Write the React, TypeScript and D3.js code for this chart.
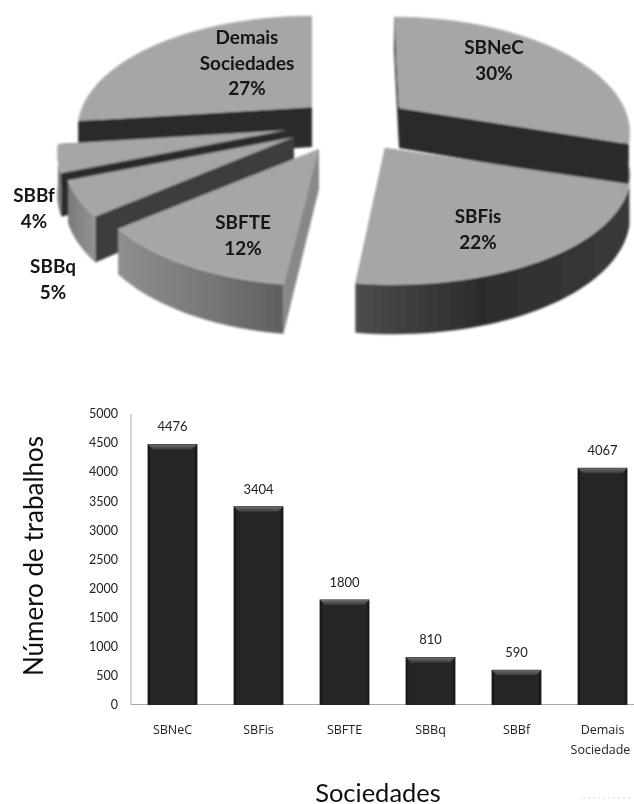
import React from "react";
import * as d3 from "d3";

const pieNames = ["SBNeC", "SBFis", "SBFTE", "SBBq", "SBBf", "Demais Sociedades"];
const pieShares = [30, 22, 12, 5, 4, 27];
const categories = ["SBNeC", "SBFis", "SBFTE", "SBBq", "SBBf", "Demais Sociedade"];
const works = [4476, 3404, 1800, 810, 590, 4067];
const yTicks = [0, 500, 1000, 1500, 2000, 2500, 3000, 3500, 4000, 4500, 5000];

const W = 634, H = 804;
const R = 225, K = 109, P = 0.2, DEPTH = 40;
const font = "Lato, 'Open Sans', sans-serif";
const tickFont = "'Open Sans', Lato, sans-serif";

// exploded apex of each slice, painter's order and look
const apexX = [399, 385, 319, 294, 287, 312];
const apexY = [108, 148, 149, 137, 130, 107];
const skew = [5, 8, 0, 0, 0, 0];
const widen = [1, 1.06, 1.01, 1, 1, 1.02];
const drawOrder = [5, 4, 3, 2, 0, 1];
const outerWall = ["#2b2b2b", "url(#gFis)", "url(#gFte)", "url(#gQ)", "#777", "#2b2b2b"];
const endWall = ["#2a2a2a", "#2a2a2a", "#888888", "#3d3d3d", "#2a2a2a", "#2a2a2a"];
const startWall = ["#2a2a2a", "#2a2a2a", "#888888", "#3d3d3d", "#2a2a2a", "#2a2a2a"];

const arcs = d3.pie<number>().sort(null)(pieShares);
const linePath = d3.line<[number, number]>();

function project(i: number, a: number, r: number, depth: number): [number, number] {
  const u = Math.sin(a) * r, v = -Math.cos(a) * r;
  const w = 1 / (1 - P * v);
  return [apexX[i] + R * widen[i] * u * w + skew[i] * v, apexY[i] + K * v * w + depth * w];
}
function arcPts(i: number, a0: number, a1: number, depth: number): [number, number][] {
  const n = Math.max(4, Math.ceil((a1 - a0) * 30));
  return d3.range(n + 1).map((k) => project(i, a0 + ((a1 - a0) * k) / n, 1, depth));
}

const y = d3.scaleLinear().domain([0, 5000]).range([704.5, 414]);
const x = d3.scaleBand<string>().domain(categories).range([129.5, 645.5]).paddingInner(0.43).paddingOuter(0.215);

const pieLabels: { lines: string[]; cx: number; base: number }[] = [
  { lines: ["SBNeC", "30%"], cx: 494, base: 54 },
  { lines: ["SBFis", "22%"], cx: 478, base: 223 },
  { lines: ["SBFTE", "12%"], cx: 243, base: 229 },
  { lines: ["SBBq", "5%"], cx: 53, base: 273 },
  { lines: ["SBBf", "4%"], cx: 34, base: 202 },
  { lines: ["Demais", "Sociedades", "27%"], cx: 247, base: 44 },
];

export default function App() {
  return (
    <svg width={W} height={H} viewBox={`0 0 ${W} ${H}`} style={{ position: "absolute", left: 0, top: 0, background: "#fff" }}>
      <defs>
        <filter id="soft" x="-5%" y="-5%" width="110%" height="110%"><feGaussianBlur stdDeviation="0.8" /></filter>
        <filter id="softText" x="-5%" y="-5%" width="110%" height="110%"><feGaussianBlur stdDeviation="0.35" /></filter>
        <linearGradient id="gFis" x1="0" x2="1" y1="0" y2="0">
          <stop offset="0" stopColor="#4c4c4c" /><stop offset="0.45" stopColor="#2c2c2c" /><stop offset="1" stopColor="#3a3a3a" />
        </linearGradient>
        <linearGradient id="gFte" x1="0" x2="1" y1="0" y2="0">
          <stop offset="0" stopColor="#8f8f8f" /><stop offset="0.55" stopColor="#777" /><stop offset="1" stopColor="#5f5f5f" />
        </linearGradient>
        <linearGradient id="gQ" x1="0" x2="1" y1="0" y2="0">
          <stop offset="0" stopColor="#7a7a7a" /><stop offset="1" stopColor="#949494" />
        </linearGradient>
        <linearGradient id="gBar" x1="0" x2="1" y1="0" y2="0">
          <stop offset="0" stopColor="#111" /><stop offset="0.06" stopColor="#262626" /><stop offset="0.94" stopColor="#262626" /><stop offset="1" stopColor="#111" />
        </linearGradient>
        <linearGradient id="gBevel" x1="0" x2="0" y1="0" y2="1">
          <stop offset="0" stopColor="#6e6e6e" /><stop offset="1" stopColor="#3a3a3a" />
        </linearGradient>
      </defs>

      <g filter="url(#soft)">
        {drawOrder.map((i) => {
          const { startAngle: a0, endAngle: a1 } = arcs[i];
          const apex = project(i, 0, 0, 0);
          const apexLow = project(i, 0, 0, DEPTH);
          const topPts = arcPts(i, a0, a1, 0);
          const lowPts = arcPts(i, a0, a1, DEPTH);
          const wall0: [number, number][] = [apex, topPts[0], lowPts[0], apexLow];
          const wall1: [number, number][] = [apex, topPts[topPts.length - 1], lowPts[lowPts.length - 1], apexLow];
          return (
            <g key={pieNames[i]}>
              <path d={linePath(wall0) + "Z"} fill={startWall[i]} />
              <path d={linePath(wall1) + "Z"} fill={endWall[i]} />
              <path d={linePath([...topPts, ...lowPts.slice().reverse()]) + "Z"} fill={outerWall[i]} />
              <path d={linePath([apex, ...topPts]) + "Z"} fill="#a6a6a6" />
              <path d={linePath(topPts) ?? ""} fill="none" stroke="#bdbdbd" strokeWidth={1} />
            </g>
          );
        })}
      </g>

      <g filter="url(#softText)" fontFamily={font} fontWeight={700} fontSize={18} fill="#141414" textAnchor="middle">
        {pieLabels.map((l) =>
          l.lines.map((t, k) => (
            <text key={t} transform={`translate(${l.cx},${l.base + k * 25.7}) scale(1.05,1)`}>{t}</text>
          ))
        )}
      </g>

      <g filter="url(#softText)">
        <line x1={131} x2={131} y1={y(5000)} y2={y(0)} stroke="#a8a8a8" strokeWidth={1} />
        <line x1={131} x2={W} y1={y(0)} y2={y(0)} stroke="#a8a8a8" strokeWidth={1} />
        {yTicks.map((t) => (
          <text key={t} x={118} y={y(t)} dy="0.35em" textAnchor="end" fontFamily={font} fontSize={12.5} fill="#222">{t}</text>
        ))}
        {categories.map((c, i) => {
          const bx = x(c)!, bw = x.bandwidth(), top = y(works[i]), base = y(0);
          const bevel: [number, number][] = [[bx, top], [bx + bw, top], [bx + bw - 5, top + 5], [bx + 5, top + 5]];
          const words = c.split(" ");
          const cx = bx + bw / 2;
          return (
            <g key={c}>
              <rect x={bx} y={top} width={bw} height={base - top} fill="url(#gBar)" stroke="#151515" strokeWidth={0.8} />
              <path d={linePath(bevel) + "Z"} fill="url(#gBevel)" />
              <text x={cx} y={top - 13} textAnchor="middle" fontFamily={font} fontSize={13} fill="#222">{works[i]}</text>
              {words.map((wd, k) => (
                <text key={wd} x={cx - k * 2} y={734 + k * 19.5} textAnchor="middle" fontFamily={tickFont} fontSize={12.5} fill="#222">{wd}</text>
              ))}
            </g>
          );
        })}
        <text transform="translate(43,556) rotate(-90)" textAnchor="middle" fontFamily={font} fontSize={26} fill="#111">Número de trabalhos</text>
        <text x={378} y={802} textAnchor="middle" fontFamily={font} fontSize={25.5} fill="#111">Sociedades</text>
        <line x1={583} x2={633} y1={798} y2={798} stroke="#e6e6e6" strokeWidth={1.5} strokeDasharray="2 3" />
      </g>
    </svg>
  );
}
